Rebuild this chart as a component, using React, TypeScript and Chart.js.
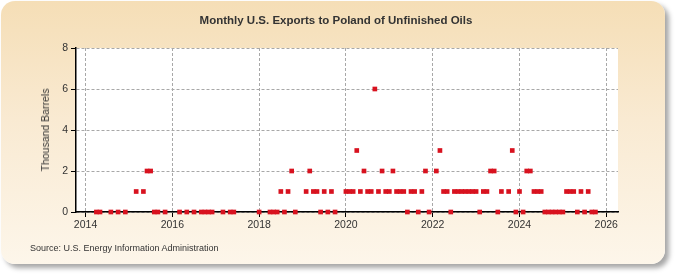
import { useEffect, useRef } from "react";
import { Chart, registerables } from "chart.js";

Chart.register(...registerables);

const MONTHS = [
  "2014-04", "2014-05", "2014-08", "2014-10", "2014-12",
  "2015-03", "2015-05", "2015-06", "2015-07", "2015-08", "2015-09", "2015-11",
  "2016-03", "2016-05", "2016-07", "2016-09", "2016-10", "2016-11", "2016-12",
  "2017-03", "2017-05", "2017-06",
  "2018-01", "2018-04", "2018-05", "2018-06", "2018-07", "2018-08", "2018-09", "2018-10", "2018-11",
  "2019-02", "2019-03", "2019-04", "2019-05", "2019-06", "2019-07", "2019-08", "2019-09", "2019-10",
  "2020-01", "2020-02", "2020-03", "2020-04", "2020-05", "2020-06", "2020-07", "2020-08", "2020-09", "2020-10", "2020-11", "2020-12",
  "2021-01", "2021-02", "2021-03", "2021-04", "2021-05", "2021-06", "2021-07", "2021-08", "2021-09", "2021-10", "2021-11", "2021-12",
  "2022-02", "2022-03", "2022-04", "2022-05", "2022-06", "2022-07", "2022-08", "2022-09", "2022-10", "2022-11", "2022-12",
  "2023-01", "2023-02", "2023-03", "2023-04", "2023-05", "2023-06", "2023-07", "2023-08", "2023-10", "2023-11", "2023-12",
  "2024-01", "2024-02", "2024-03", "2024-04", "2024-05", "2024-06", "2024-07", "2024-08", "2024-09", "2024-10", "2024-11", "2024-12",
  "2025-01", "2025-02", "2025-03", "2025-04", "2025-05", "2025-06", "2025-07", "2025-08", "2025-09", "2025-10",
];

const VALUES = [
  0, 0, 0, 0, 0,
  1, 1, 2, 2, 0, 0, 0,
  0, 0, 0, 0, 0, 0, 0,
  0, 0, 0,
  0, 0, 0, 0, 1, 0, 1, 2, 0,
  1, 2, 1, 1, 0, 1, 0, 1, 0,
  1, 1, 1, 3, 1, 2, 1, 1, 6, 1, 2, 1,
  1, 2, 1, 1, 1, 0, 1, 1, 0, 1, 2, 0,
  2, 3, 1, 1, 0, 1, 1, 1, 1, 1, 1,
  1, 0, 1, 1, 2, 2, 0, 1, 1, 3, 0,
  1, 0, 2, 2, 1, 1, 1, 0, 0, 0, 0, 0,
  0, 1, 1, 1, 0, 1, 0, 1, 0, 0,
];

const X_TICKS = [2014, 2016, 2018, 2020, 2022, 2024, 2026];
const Y_TICKS = [0, 2, 4, 6, 8];

const TITLE = "Monthly U.S. Exports to Poland of Unfinished Oils";
const Y_TITLE = "Thousand Barrels";
const SOURCE = "Source: U.S. Energy Information Administration";

const FONT = "'Liberation Sans', Arial, sans-serif";

const plotBg = {
  id: "plotBg",
  beforeDraw(chart: any) {
    const { ctx, chartArea } = chart;
    if (!chartArea) return;
    ctx.save();
    ctx.fillStyle = "#ffffff";
    ctx.fillRect(chartArea.left, chartArea.top, chartArea.right - chartArea.left, chartArea.bottom - chartArea.top);
    ctx.restore();
  },
};

export default function App() {
  const ref = useRef<HTMLCanvasElement>(null);

  useEffect(() => {
    const points = MONTHS.map((m, i) => {
      const [yr, mo] = m.split("-").map(Number);
      return { x: yr + (mo - 1) / 12, y: VALUES[i] };
    });
    const chart = new Chart(ref.current!, {
      type: "scatter",
      data: {
        datasets: [
          {
            data: points,
            pointStyle: "rect",
            pointRadius: 3.3,
            pointHoverRadius: 3.3,
            backgroundColor: "#d8121f",
            borderWidth: 0,
            clip: false,
          } as any,
        ],
      },
      options: {
        animation: false,
        responsive: false,
        devicePixelRatio: 1,
        events: [],
        layout: { padding: { left: 0, top: 48, right: 57, bottom: 43 } },
        plugins: {
          legend: { display: false },
          tooltip: { enabled: false },
          title: { display: false },
        },
        scales: {
          x: {
            type: "linear",
            min: 2013.78,
            max: 2026.27,
            z: 1,
            afterBuildTicks: (s: any) => {
              s.ticks = X_TICKS.map((v) => ({ value: v }));
            },
            afterFit: (s: any) => {
              s.height = 20;
            },
            grid: {
              color: "#a8a8a8",
              lineWidth: 1,
              tickColor: "#000",
              tickLength: 5,
              drawTicks: true,
            },
            border: { display: true, color: "#000", width: 1.5, dash: [3, 2] },
            ticks: {
              color: "#333",
              font: { family: FONT, size: 10.5 },
              padding: 2,
              maxRotation: 0,
              autoSkip: false,
              callback: (v: any) => String(v),
            },
          },
          y: {
            type: "linear",
            min: 0,
            max: 8,
            afterBuildTicks: (s: any) => {
              s.ticks = Y_TICKS.map((v) => ({ value: v }));
            },
            afterFit: (s: any) => {
              s.width = 76;
            },
            grid: {
              color: "#a8a8a8",
              lineWidth: 1,
              tickColor: "#000",
              tickLength: 5,
            },
            border: { display: true, color: "#000", width: 1.5, dash: [3, 2] },
            ticks: {
              color: "#333",
              font: { family: FONT, size: 10.5 },
              padding: 3,
              callback: (v: any) => String(v),
            },
          },
        },
      },
      plugins: [plotBg],
    });
    return () => chart.destroy();
  }, []);

  return (
    <div style={{ position: "fixed", left: 0, top: 0, width: 675, height: 275, background: "#ffffff", overflow: "hidden" }}>
      <div
        style={{
          position: "absolute",
          left: 1,
          top: 1,
          width: 664,
          height: 263,
          borderRadius: 14,
          background: "linear-gradient(to bottom, #f5deb6 0%, #f9ead2 45%, #fdf6ea 100%)",
          boxShadow: "4px 4px 5px rgba(0,0,0,0.35)",
        }}
      />
      <canvas ref={ref} width={675} height={275} style={{ position: "absolute", left: 0, top: 0, width: 675, height: 275 }} />
      <div
        style={{
          position: "absolute",
          left: 0,
          top: 14,
          width: 672,
          textAlign: "center",
          font: `bold 11.5px ${FONT}`,
          color: "#333",
          whiteSpace: "nowrap",
        }}
      >
        {TITLE}
      </div>
      <div
        style={{
          position: "absolute",
          left: 45,
          top: 130,
          transform: "translate(-50%, -50%) rotate(-90deg)",
          font: `10.5px ${FONT}`,
          color: "#333",
          whiteSpace: "nowrap",
        }}
      >
        {Y_TITLE}
      </div>
      <div
        style={{
          position: "absolute",
          left: 30,
          top: 243,
          font: `9px ${FONT}`,
          color: "#333",
          whiteSpace: "nowrap",
        }}
      >
        {SOURCE}
      </div>
    </div>
  );
}
